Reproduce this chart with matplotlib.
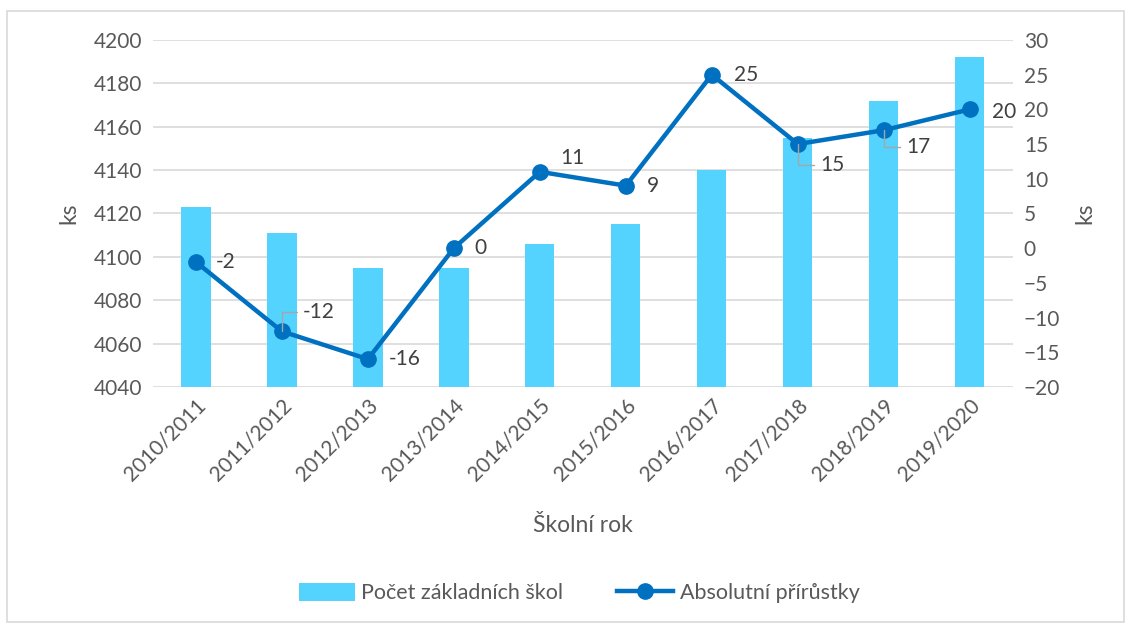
import numpy as np
import matplotlib.pyplot as plt
from matplotlib.patches import Rectangle

plt.rcParams['font.family'] = ['Lato', 'DejaVu Sans']

roky = ['2010/2011', '2011/2012', '2012/2013', '2013/2014', '2014/2015',
        '2015/2016', '2016/2017', '2017/2018', '2018/2019', '2019/2020']
pocet_skol = [4123, 4111, 4095, 4095, 4106, 4115, 4140, 4155, 4172, 4192]
prirustky = [-2, -12, -16, 0, 11, 9, 25, 15, 17, 20]
# posun popisku v bodech a zda ma vodici caru
posuny = [(14, 0), (15, 14), (15, 0), (15, 0), (15, 10), (15, 0), (16, 0), (16, -15), (16, -12), (16, -2)]
vodici = [False, True, False, False, False, False, False, True, True, False]

seda = '#595959'
x = np.arange(len(roky))

fig = plt.figure(figsize=(11.29, 6.25), dpi=100)
fig.patches.append(Rectangle((0.006, 0.005), 0.99, 0.978, transform=fig.transFigure,
                             fill=False, edgecolor='#D9D9D9', linewidth=1.2))
ax = fig.add_axes([0.1355, 0.381, 0.7615, 0.555])
ax2 = ax.twinx()

ax.bar(x, pocet_skol, width=0.34, color='#55D3FF', label='Počet základních škol', zorder=2)
ax.set_ylim(4040, 4200)
ax.set_yticks(np.arange(4040, 4201, 20))
ax.set_xlim(-0.5, len(roky) - 0.5)
ax.set_xticks(x)
ax.set_xticklabels(roky, rotation=45, ha='right', rotation_mode='anchor')
ax.grid(axis='y', color='#D9D9D9', linewidth=1.2, zorder=0)
ax.set_axisbelow(True)
ax.set_ylabel('ks', fontsize=16.5, color=seda, labelpad=10)
ax.set_xlabel('Školní rok', fontsize=16.5, color=seda, labelpad=22)

ax2.plot(x, prirustky, color='#0070C0', linewidth=3.2, marker='o', markersize=11,
         label='Absolutní přírůstky', zorder=3)
ax2.set_ylim(-20, 30)
ax2.set_yticks(np.arange(-20, 31, 5))
ax2.set_ylabel('ks', fontsize=16.5, color=seda, labelpad=10)

for i, v in enumerate(prirustky):
    dx, dy = posuny[i]
    if vodici[i]:
        ax2.annotate(str(v), (x[i], v), xytext=(dx, dy), textcoords='offset points',
                     fontsize=15, color='#404040', va='center', ha='left',
                     arrowprops=dict(arrowstyle='-', color='#A6A6A6', lw=1,
                                     connectionstyle='angle,angleA=0,angleB=90,rad=0',
                                     shrinkA=2, shrinkB=0))
    else:
        ax2.annotate(str(v), (x[i], v), xytext=(dx, dy), textcoords='offset points',
                     fontsize=15, color='#404040', va='center', ha='left')

for a in (ax, ax2):
    for s in a.spines.values():
        s.set_visible(False)
    a.tick_params(length=0, labelsize=15, labelcolor=seda, pad=8)
ax.tick_params(axis='x', pad=6)

h1, l1 = ax.get_legend_handles_labels()
h2, l2 = ax2.get_legend_handles_labels()
fig.legend(h1 + h2, l1 + l2, loc='center', bbox_to_anchor=(0.513, 0.051), ncol=2,
           frameon=False, fontsize=15.5, labelcolor=seda, handlelength=2.6,
           handleheight=0.9, handletextpad=0.3, columnspacing=2.5)

fig.savefig('out.png', dpi=100)
